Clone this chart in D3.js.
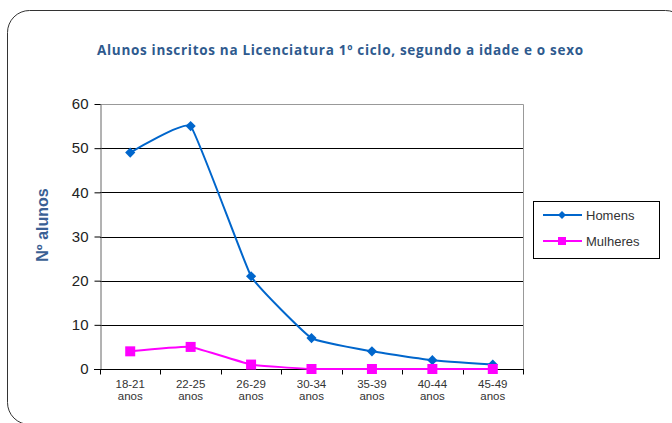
<!DOCTYPE html>
<html><head><meta charset="utf-8">
<script src="https://cdn.jsdelivr.net/npm/d3@7"></script>
<style>body{margin:0;background:#fff}svg{display:block}</style>
</head><body><svg id="c" width="672" height="423"></svg>
<script>
const categories = ["18-21 anos","22-25 anos","26-29 anos","30-34 anos","35-39 anos","40-44 anos","45-49 anos"];
const homens = [49, 55, 21, 7, 4, 2, 1];
const mulheres = [4, 5, 1, 0, 0, 0, 0];
const yTicks = [0, 10, 20, 30, 40, 50, 60];
const seriesNames = ["Homens", "Mulheres"];
const colors = ["#0066CC", "#FF00FF"];
const title = "Alunos inscritos na Licenciatura 1º ciclo, segundo a idade e o  sexo";
const yTitle = "Nº alunos";

const svg = d3.select("#c");
svg.append("rect").attr("x",7.5).attr("y",10.5).attr("width",680).attr("height",414).attr("rx",22)
  .attr("fill","#fff").attr("stroke","#333").attr("stroke-width",1);

const L=100, R=523, T=104, B=369;
const x = d3.scaleBand().domain(categories).range([L,R]);
const y = d3.scaleLinear().domain([0,60]).range([B,T]);

svg.append("g").selectAll("line").data(yTicks.filter(d=>d>0)).join("line")
  .attr("x1",L).attr("x2",R).attr("y1",d=>Math.round(y(d))+0.5).attr("y2",d=>Math.round(y(d))+0.5)
  .attr("stroke","#000").attr("stroke-width",1);
svg.append("path").attr("d",`M${L},${T+0.5}H${R+0.5}V${B}`).attr("fill","none").attr("stroke","#999");

const ya = svg.append("g").attr("transform",`translate(${L+0.5},0)`)
  .call(d3.axisLeft(y).tickValues(yTicks).tickSize(6).tickPadding(6).tickSizeOuter(0));
ya.select(".domain").attr("stroke","#666");
ya.selectAll(".tick line").attr("stroke","#000");
ya.selectAll("text").attr("font-family","Liberation Sans, Arial").attr("font-size",15).attr("fill","#222");

const xa = svg.append("g").attr("transform",`translate(0,${B+0.5})`);
xa.append("line").attr("x1",L-6).attr("x2",R+1).attr("stroke","#000");
const bounds = categories.map(c=>x(c)).concat([R]);
xa.selectAll("line.t").data(bounds).join("line").attr("class","t")
  .attr("x1",d=>Math.round(d)+0.5).attr("x2",d=>Math.round(d)+0.5).attr("y1",0).attr("y2",5).attr("stroke","#000");
[0,1].forEach(k=>{
  xa.selectAll("text.l"+k).data(categories).join("text").attr("class","l"+k)
    .attr("x",d=>x(d)+x.bandwidth()/2).attr("y",18+k*12).attr("text-anchor","middle")
    .attr("font-family","Liberation Sans, Arial").attr("font-size",11.5).attr("fill","#333")
    .text(d=>d.split(" ")[k]);
});

const cx = c=>x(c)+x.bandwidth()/2;
const line = d3.line().x(d=>cx(d.c)).y(d=>y(d.v)).curve(d3.curveCardinal.tension(0.7));
const data = [homens, mulheres].map(arr=>arr.map((v,i)=>({c:categories[i],v})));
data.forEach((s,i)=>{
  svg.append("path").datum(s).attr("d",line).attr("fill","none").attr("stroke",colors[i]).attr("stroke-width",2);
});
svg.append("g").selectAll("rect").data(data[0]).join("rect")
  .attr("x",-3.6).attr("y",-3.6).attr("width",7.2).attr("height",7.2)
  .attr("transform",d=>`translate(${cx(d.c)},${y(d.v)}) rotate(45)`).attr("fill",colors[0]);
svg.append("g").selectAll("rect").data(data[1]).join("rect")
  .attr("x",d=>cx(d.c)-5).attr("y",d=>y(d.v)-5).attr("width",10).attr("height",10).attr("fill",colors[1]);

const lg = svg.append("g");
lg.append("rect").attr("x",533.5).attr("y",201.5).attr("width",126).attr("height",57).attr("fill","#fff").attr("stroke","#000");
seriesNames.forEach((n,i)=>{
  const yy = 215 + i*26;
  lg.append("line").attr("x1",543).attr("x2",582).attr("y1",yy).attr("y2",yy).attr("stroke",colors[i]).attr("stroke-width",2);
  if(i===0) lg.append("rect").attr("x",-2.8).attr("y",-2.8).attr("width",5.6).attr("height",5.6)
     .attr("transform",`translate(562,${yy}) rotate(45)`).attr("fill",colors[0]);
  else lg.append("rect").attr("x",558).attr("y",yy-4).attr("width",8).attr("height",8).attr("fill",colors[1]);
  lg.append("text").attr("x",586).attr("y",yy+5).text(n).attr("font-family","Liberation Sans, Arial").attr("font-size",13).attr("fill","#333");
});

svg.append("text").attr("x",97).attr("y",55).attr("textLength",486).attr("lengthAdjust","spacing").text(title)
  .attr("font-family","Open Sans, sans-serif").attr("font-weight","bold").attr("font-size",13.5).attr("fill","#2E5A8E");
svg.append("text").attr("transform","translate(48,225) rotate(-90)").attr("text-anchor","middle").text(yTitle)
  .attr("font-family","Liberation Sans, Arial").attr("font-weight","bold").attr("font-size",16).attr("fill","#3A6094");
</script></body></html>
